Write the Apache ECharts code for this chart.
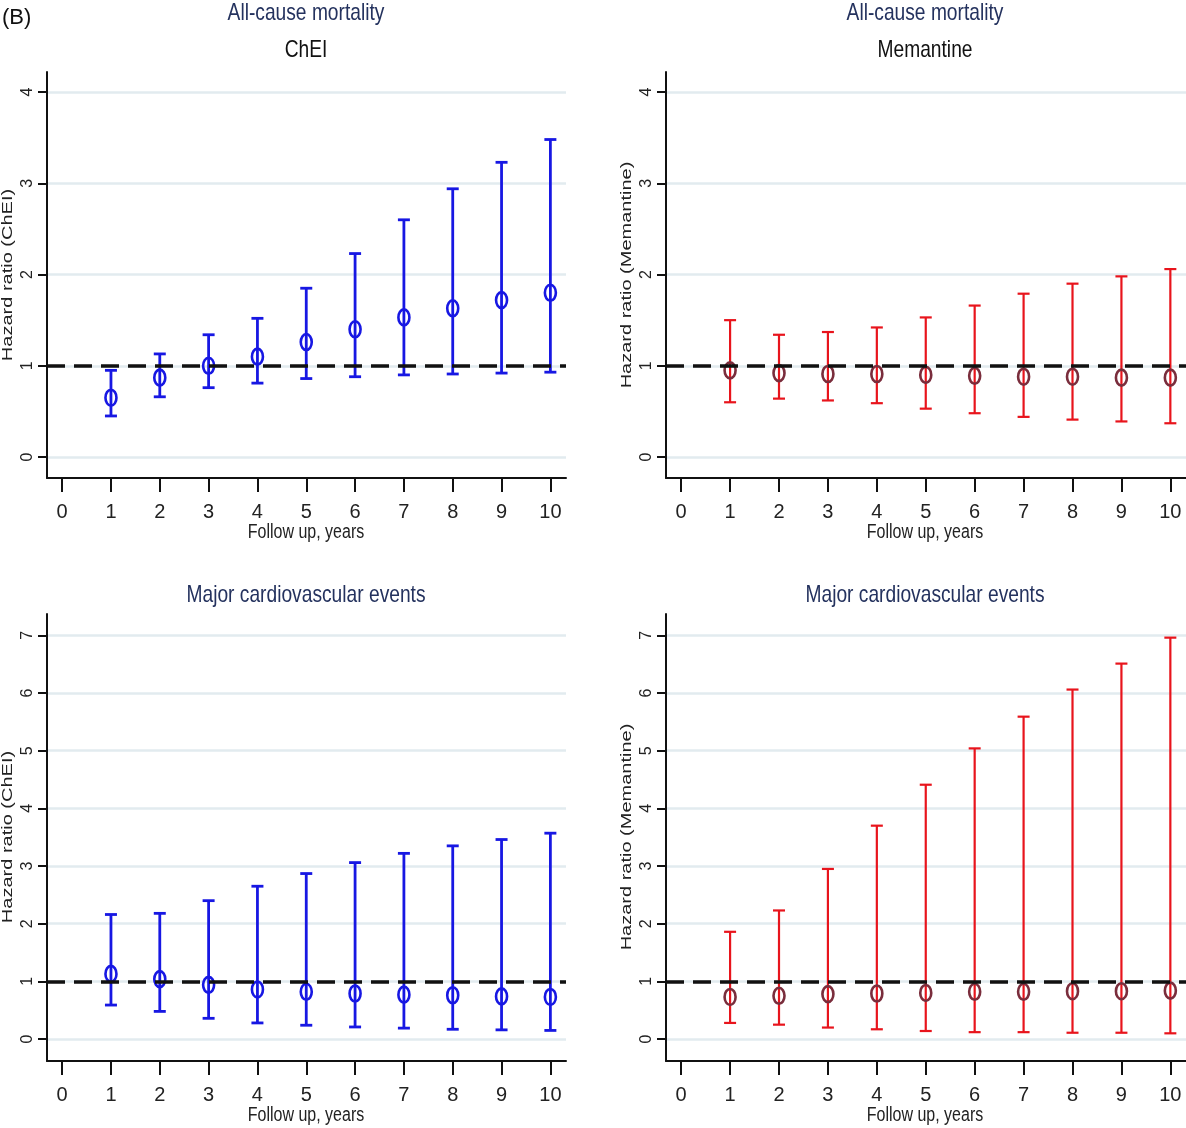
<!DOCTYPE html>
<html>
<head>
<meta charset="utf-8">
<script src="https://cdn.jsdelivr.net/npm/echarts@6/dist/echarts.min.js"></script>
<style>
  html, body { margin: 0; padding: 0; background: #fff; }
  #chart { width: 1186px; height: 1128px; }
</style>
</head>
<body>
<div id="chart"></div>
<script>
const years = [1, 2, 3, 4, 5, 6, 7, 8, 9, 10];
const xTicks = [0, 1, 2, 3, 4, 5, 6, 7, 8, 9, 10];
const yTicksTop = [0, 1, 2, 3, 4];
const yTicksBottom = [0, 1, 2, 3, 4, 5, 6, 7];

// all-cause mortality
const cheiAcmHr = [0.65, 0.87, 1.00, 1.10, 1.26, 1.40, 1.53, 1.63, 1.72, 1.80];
const cheiAcmLo = [0.45, 0.66, 0.76, 0.81, 0.86, 0.88, 0.90, 0.91, 0.92, 0.93];
const cheiAcmHi = [0.95, 1.13, 1.34, 1.52, 1.85, 2.23, 2.60, 2.94, 3.23, 3.48];

const memAcmHr = [0.95, 0.92, 0.91, 0.91, 0.90, 0.89, 0.88, 0.88, 0.87, 0.87];
const memAcmLo = [0.60, 0.64, 0.62, 0.59, 0.53, 0.48, 0.44, 0.41, 0.39, 0.37];
const memAcmHi = [1.50, 1.34, 1.37, 1.42, 1.53, 1.66, 1.79, 1.90, 1.98, 2.06];

// major cardiovascular events
const cheiMaceHr = [1.13, 1.04, 0.94, 0.86, 0.82, 0.79, 0.77, 0.76, 0.74, 0.73];
const cheiMaceLo = [0.59, 0.48, 0.36, 0.28, 0.24, 0.21, 0.19, 0.17, 0.16, 0.15];
const cheiMaceHi = [2.16, 2.18, 2.40, 2.65, 2.87, 3.06, 3.22, 3.35, 3.46, 3.57];

const memMaceHr = [0.73, 0.75, 0.78, 0.79, 0.80, 0.82, 0.82, 0.83, 0.83, 0.84];
const memMaceLo = [0.28, 0.25, 0.20, 0.17, 0.14, 0.12, 0.12, 0.11, 0.11, 0.10];
const memMaceHi = [1.86, 2.23, 2.95, 3.70, 4.41, 5.04, 5.59, 6.06, 6.51, 6.96];

const BLUE = '#1717e3';
const RED = '#e8141c';
const MAROON = '#7a2d3c';
const NAVY = '#24325e';
const ARIAL = "'Liberation Sans', Arial, sans-serif";

const chart = echarts.init(document.getElementById('chart'));

const grids = [
  { left: 47, top: 72, width: 519, height: 406, outerBoundsMode: 'none', containLabel: false },
  { left: 666, top: 72, width: 520, height: 406, outerBoundsMode: 'none', containLabel: false },
  { left: 47, top: 614, width: 519, height: 447, outerBoundsMode: 'none', containLabel: false },
  { left: 666, top: 614, width: 520, height: 447, outerBoundsMode: 'none', containLabel: false }
];

function xAxisFor(i) {
  return {
    gridIndex: i, type: 'value', min: -0.31, max: 10.32,
    axisLine: { show: true, onZero: false, lineStyle: { color: '#111', width: 2 } },
    axisTick: { show: true, customValues: xTicks, length: 14, lineStyle: { color: '#111', width: 2 } },
    axisLabel: { customValues: xTicks, margin: 24, fontFamily: ARIAL, fontSize: 20, color: '#222' },
    splitLine: { show: false }
  };
}

function yAxisFor(i, max, min, ticks) {
  return {
    gridIndex: i, type: 'value', min: min, max: max,
    axisLine: { show: true, onZero: false, lineStyle: { color: '#111', width: 2 } },
    axisTick: { show: true, customValues: ticks, length: 9, lineStyle: { color: '#111', width: 2 } },
    axisLabel: { customValues: ticks, rotate: 90, margin: 11, fontFamily: ARIAL, fontSize: 16, color: '#222' },
    splitLine: { show: true, lineStyle: { color: '#e2ebef', width: 2.5 } }
  };
}

function rows(hr, lo, hi) {
  return years.map((y, k) => [y, hr[k], lo[k], hi[k]]);
}

function errorSeries(i, data, lineColor, markColor, lw) {
  return {
    type: 'custom', xAxisIndex: i, yAxisIndex: i, data: data,
    encode: { x: 0, y: [1, 2, 3] },
    z: 3,
    renderItem: function (params, api) {
      const x = api.value(0);
      const c = api.coord([x, api.value(1)]);
      const lo = api.coord([x, api.value(2)]);
      const hi = api.coord([x, api.value(3)]);
      const cap = 12;
      const style = { stroke: lineColor, lineWidth: lw };
      return {
        type: 'group',
        children: [
          { type: 'line', shape: { x1: hi[0], y1: hi[1], x2: lo[0], y2: lo[1] }, style: style },
          { type: 'line', shape: { x1: hi[0] - cap / 2, y1: hi[1], x2: hi[0] + cap / 2, y2: hi[1] }, style: style },
          { type: 'line', shape: { x1: lo[0] - cap / 2, y1: lo[1], x2: lo[0] + cap / 2, y2: lo[1] }, style: style },
          { type: 'ellipse', shape: { cx: c[0], cy: c[1], rx: 5.5, ry: 8 },
            style: { fill: 'none', stroke: markColor, lineWidth: 2.6 } }
        ]
      };
    },
    markLine: {
      silent: true, symbol: 'none', label: { show: false },
      lineStyle: { color: '#111', width: 3.5, type: [18, 9] },
      data: [{ yAxis: 1 }]
    }
  };
}

// the source figure is stretched vertically, so horizontal text looks narrow
function narrowText(x, y, text, size, color) {
  return {
    type: 'text', x: x, y: y, scaleX: 0.8, scaleY: 1,
    style: { text: text, font: size + 'px ' + ARIAL, fill: color, textAlign: 'center', textVerticalAlign: 'middle' }
  };
}

// rotated y-axis titles: long along the text, thin across it
function yTitle(x, y, text) {
  return {
    type: 'text', x: x, y: y, rotation: Math.PI / 2, scaleX: 1, scaleY: 0.75,
    style: { text: text, font: '20px ' + ARIAL, fill: '#222', textAlign: 'center', textVerticalAlign: 'middle' }
  };
}

const option = {
  animation: false,
  backgroundColor: '#fff',
  grid: grids,
  xAxis: [xAxisFor(0), xAxisFor(1), xAxisFor(2), xAxisFor(3)],
  yAxis: [
    yAxisFor(0, 4.22, -0.23, yTicksTop),
    yAxisFor(1, 4.22, -0.23, yTicksTop),
    yAxisFor(2, 7.37, -0.38, yTicksBottom),
    yAxisFor(3, 7.37, -0.38, yTicksBottom)
  ],
  series: [
    errorSeries(0, rows(cheiAcmHr, cheiAcmLo, cheiAcmHi), BLUE, BLUE, 2.8),
    errorSeries(1, rows(memAcmHr, memAcmLo, memAcmHi), RED, MAROON, 2.2),
    errorSeries(2, rows(cheiMaceHr, cheiMaceLo, cheiMaceHi), BLUE, BLUE, 2.8),
    errorSeries(3, rows(memMaceHr, memMaceLo, memMaceHi), RED, MAROON, 2.2)
  ],
  graphic: [
    { type: 'text', x: 2, y: 18, style: { text: '(B)', font: '22px ' + ARIAL, fill: '#111', textVerticalAlign: 'middle' } },
    narrowText(306, 13, 'All-cause mortality', 24, NAVY),
    narrowText(306, 50, 'ChEI', 24, '#111'),
    narrowText(925, 13, 'All-cause mortality', 24, NAVY),
    narrowText(925, 50, 'Memantine', 24, '#111'),
    narrowText(306, 595, 'Major cardiovascular events', 24, NAVY),
    narrowText(925, 595, 'Major cardiovascular events', 24, NAVY),
    narrowText(306, 532, 'Follow up, years', 20, '#222'),
    narrowText(925, 532, 'Follow up, years', 20, '#222'),
    narrowText(306, 1115, 'Follow up, years', 20, '#222'),
    narrowText(925, 1115, 'Follow up, years', 20, '#222'),
    yTitle(8, 275, 'Hazard ratio (ChEI)'),
    yTitle(627, 275, 'Hazard ratio (Memantine)'),
    yTitle(8, 837, 'Hazard ratio (ChEI)'),
    yTitle(627, 837, 'Hazard ratio (Memantine)')
  ]
};

chart.setOption(option);
</script>
</body>
</html>
